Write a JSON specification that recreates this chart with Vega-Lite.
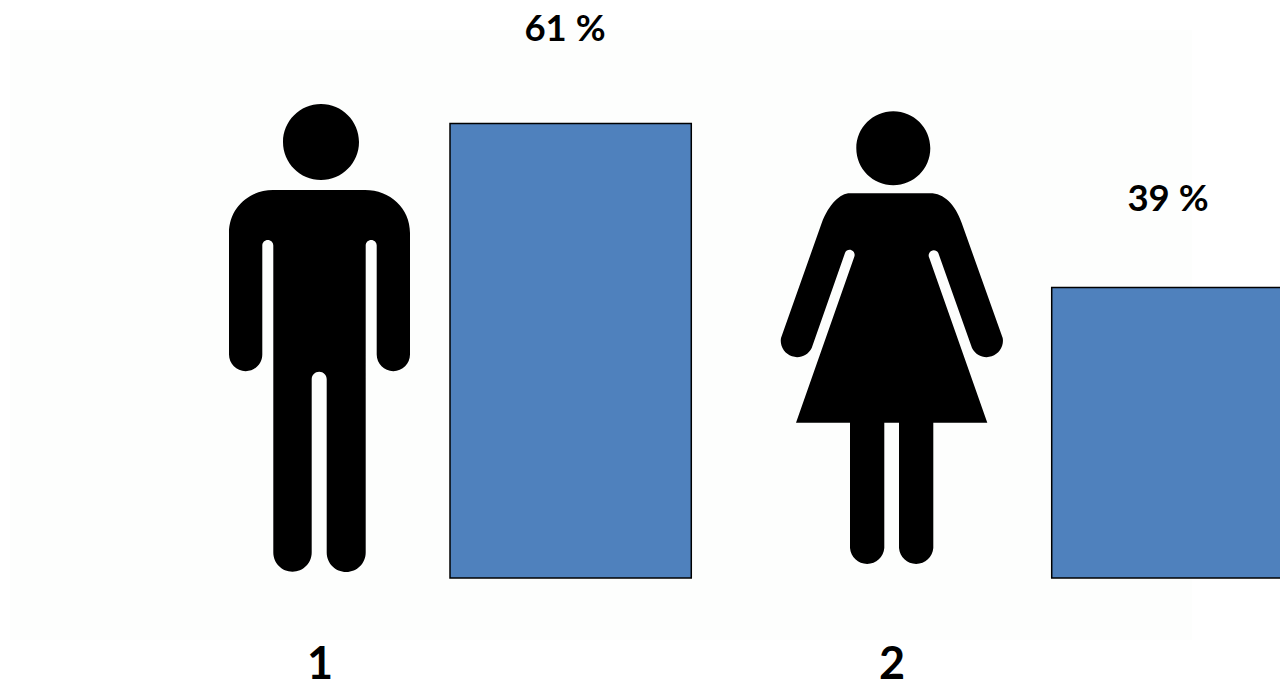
{
  "$schema": "https://vega.github.io/schema/vega-lite/v6.json",
  "width": 1182,
  "height": 610,
  "autosize": {"type": "none"},
  "padding": {"left": 10, "top": 30, "right": 88, "bottom": 42},
  "background": "#ffffff",
  "view": {"fill": "#fdfefd", "stroke": null},
  "data": {"values": [
    {"group": "1", "share": 61, "label": "61 %", "labelAt": 72.15},
    {"group": "2", "share": 39, "label": "39 %", "labelAt": 49.33}
  ]},
  "layer": [
    {
      "mark": {"type": "point", "filled": true, "fill": "#000000", "stroke": null, "opacity": 1, "size": 4, "clip": false},
      "encoding": {
        "x": {"field": "group", "type": "nominal", "axis": null, "scale": {"type": "point", "domain": ["1", "2"], "range": [310, 882], "padding": 0}},
        "y": {"datum": 0, "type": "quantitative", "axis": null, "scale": {"domain": [0, 73.56], "range": [548, 0], "nice": false, "zero": false}},
        "shape": {"field": "group", "type": "nominal", "legend": null, "scale": {"domain": ["1", "2"], "range": [
          "M-37 -436a38 38 0 1 1 76 0a38 38 0 1 1 -76 0ZM-47 -388H45C70 -388 90 -370 90 -345V-223.5A16.6 16.6 0 0 1 56.7 -223.5V-332.5A5.5 5.5 0 0 0 45.7 -332.5V-25.5A19.5 19.5 0 0 1 6.7 -25.5V-198.8A7.5 7.5 0 0 0 -8.3 -198.8V-25.5A19.2 19.2 0 0 1 -46.7 -25.5V-332.5A5.5 5.5 0 0 0 -57.7 -332.5V-223.5A16.6 16.6 0 0 1 -91 -223.5V-345C-91 -370 -71 -388 -47 -388Z",
          "M-35.7 -429.7a37 37 0 1 1 74 0a37 37 0 1 1 -74 0ZM-42 -384.7H38C52 -384.7 63 -374 69.7 -355L110.7 -240A16.3 16.3 0 0 1 80 -230L46.3 -325A5 5 0 0 0 37.3 -320L95.3 -155.3H41.3V-30A17.2 17.2 0 0 1 7 -30V-155.3H-7.7V-30A17.2 17.2 0 0 1 -42 -30V-155.3H-96L-37.7 -321.3A5 5 0 0 0 -47 -325L-80.3 -230A16.3 16.3 0 0 1 -111 -240L-70.3 -355C-63 -374 -52 -384.7 -42 -384.7Z"
        ]}}
      }
    },
    {
      "mark": {"type": "bar", "fill": "#4f81bd", "stroke": "#000000", "strokeWidth": 1.5, "clip": false},
      "encoding": {
        "x": {"field": "group", "type": "nominal", "axis": null, "scale": {"type": "band", "domain": ["1", "2"], "range": [440, 1283], "paddingInner": 0.599, "paddingOuter": 0}},
        "y": {"field": "share", "type": "quantitative", "axis": null}
      }
    },
    {
      "mark": {"type": "text", "font": "Lato", "fontWeight": "bold", "fontSize": 36.5, "align": "center", "baseline": "alphabetic", "color": "#000000", "clip": false},
      "encoding": {
        "x": {"field": "group", "type": "nominal", "axis": null, "scale": {"type": "point", "domain": ["1", "2"], "range": [555, 1158], "padding": 0}},
        "y": {"field": "labelAt", "type": "quantitative", "axis": null},
        "text": {"field": "label"}
      }
    },
    {
      "mark": {"type": "text", "font": "Lato", "fontWeight": "bold", "fontSize": 45, "align": "center", "baseline": "alphabetic", "color": "#000000", "clip": false},
      "encoding": {
        "x": {"field": "group", "type": "nominal", "axis": null, "scale": {"type": "point", "domain": ["1", "2"], "range": [310, 882], "padding": 0}},
        "y": {"datum": -13.6, "type": "quantitative", "axis": null},
        "text": {"field": "group"}
      }
    }
  ],
  "resolve": {"scale": {"x": "independent"}}
}
